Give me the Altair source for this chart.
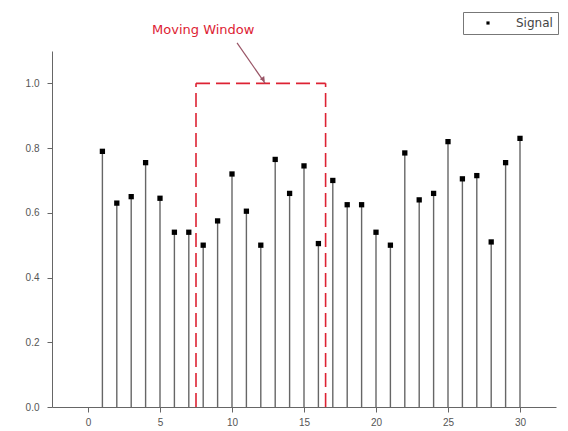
import altair as alt
import pandas as pd

# Signal values (index 1..30)
idx = list(range(1, 31))
signal = [0.79, 0.63, 0.65, 0.755, 0.645, 0.54, 0.54, 0.50, 0.575, 0.72,
          0.605, 0.50, 0.765, 0.66, 0.745, 0.505, 0.70, 0.625, 0.625, 0.54,
          0.50, 0.785, 0.64, 0.66, 0.82, 0.705, 0.715, 0.51, 0.755, 0.83]

# Moving window
win_x = [7.5, 16.5]
win_top = 1.0
label_text = "Moving Window"
label_pos = [8.0, 1.165]
arrow_from = [10.35, 1.125]
arrow_to = [12.3, 1.0]

x_ticks = [0, 5, 10, 15, 20, 25, 30]
y_ticks = [round(i * 0.1, 1) for i in range(0, 11)]

df = pd.DataFrame({"x": idx, "y": signal, "series": ["Signal"] * len(idx)})

x_scale = alt.Scale(domain=[-2.5, 32.5], nice=False, zero=False)
y_scale = alt.Scale(domain=[0, 1.1], nice=False)

font = "Liberation Sans"
axis_col = "#666666"

x_axis = alt.Axis(
    values=x_ticks, format="d",
    grid=False, title=None, domainColor=axis_col, tickColor=axis_col, tickSize=5,
    labelColor="#555555", labelFont=font, labelFontSize=10, labelPadding=5,
)
y_axis = alt.Axis(
    values=y_ticks,
    labelExpr="round(datum.value * 10) % 2 == 0 ? format(datum.value, '.1f') : ''",
    labelOverlap=False,
    grid=False, title=None, domainColor=axis_col, tickColor=axis_col, tickSize=5,
    labelColor="#555555", labelFont=font, labelFontSize=10, labelPadding=8,
)

stems = alt.Chart(df).mark_rule(color="#666666", strokeWidth=1.4).encode(
    x=alt.X("x:Q", scale=x_scale, axis=x_axis),
    y=alt.Y("y:Q", scale=y_scale, axis=y_axis),
    y2=alt.datum(0),
)

points = alt.Chart(df).mark_point(shape="square", filled=True, size=28, opacity=1).encode(
    x=alt.X("x:Q"),
    y=alt.Y("y:Q"),
    color=alt.Color("series:N", scale=alt.Scale(range=["black"]),
                    legend=alt.Legend(title=None, orient="none", legendX=411, legendY=-39,
                                      strokeColor="#777777", padding=5, symbolSize=10,
                                      symbolOffset=14, labelOffset=22,
                                      labelFont="DejaVu Sans", labelFontSize=12,
                                      labelColor="#444444", symbolType="square")),
)

win_df = pd.DataFrame({
    "x": [win_x[0], win_x[0], win_x[1]],
    "x2": [win_x[0], win_x[1], win_x[1]],
    "y": [0, win_top, 0],
    "y2": [win_top, win_top, win_top],
})
window = alt.Chart(win_df).mark_rule(color="#dd2233", strokeWidth=1.6, strokeDash=[14, 6]).encode(
    x="x:Q", x2="x2:Q", y="y:Q", y2="y2:Q",
)

text_df = pd.DataFrame({"x": [label_pos[0]], "y": [label_pos[1]], "t": [label_text]})
text = alt.Chart(text_df).mark_text(color="#dd2233", font="DejaVu Sans", fontSize=13).encode(
    x="x:Q", y="y:Q", text="t:N",
)

arr_df = pd.DataFrame({"x": [arrow_from[0]], "y": [arrow_from[1]],
                       "x2": [arrow_to[0]], "y2": [arrow_to[1]]})
arrow_line = alt.Chart(arr_df).mark_rule(color="#995566", strokeWidth=1.2).encode(
    x="x:Q", x2="x2:Q", y="y:Q", y2="y2:Q",
)
head_df = pd.DataFrame({"x": [arrow_to[0] - 0.12], "y": [arrow_to[1] + 0.012]})
arrow_head = alt.Chart(head_df).mark_point(shape="triangle-up", filled=True, size=30,
                                           angle=144, color="#995566", opacity=1).encode(
    x="x:Q", y="y:Q",
)

chart = alt.layer(stems, points, window, arrow_line, arrow_head, text).properties(
    width=504, height=356,
    autosize=alt.AutoSizeParams(type="none"),
    padding={"left": 44, "top": 43, "right": 4, "bottom": 24},
    background="white",
).configure_view(stroke=None)

chart.save("out.html", embed_options={"renderer": "svg", "actions": False})
